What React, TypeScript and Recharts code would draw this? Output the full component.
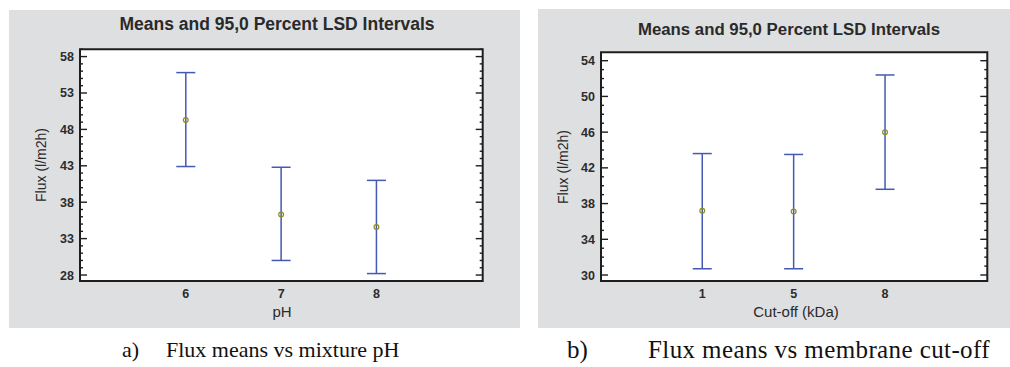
import React from 'react';
import {
  ScatterChart,
  Scatter,
  XAxis,
  YAxis,
  ErrorBar,
  ReferenceArea,
  CartesianGrid,
} from 'recharts';

// a) flux vs mixture pH
const PH_LEVELS = ['6', '7', '8'];
const PH_MEANS = [49.3, 36.3, 34.6];
const PH_LOWER = [42.9, 30.0, 28.2];
const PH_UPPER = [55.8, 42.8, 41.0];
const PH_MAJOR_TICKS = [28, 33, 38, 43, 48, 53, 58];

// b) flux vs membrane cut-off
const CUTOFF_LEVELS = ['1', '5', '8'];
const CUTOFF_MEANS = [37.2, 37.1, 46.0];
const CUTOFF_LOWER = [30.7, 30.7, 39.6];
const CUTOFF_UPPER = [43.6, 43.5, 52.4];
const CUTOFF_MAJOR_TICKS = [30, 34, 38, 42, 46, 50, 54];

const TITLE = 'Means and 95,0 Percent LSD Intervals';
const Y_LABEL = 'Flux (l/m2h)';

const SANS = '"Liberation Sans", Arial, Helvetica, sans-serif';
const SERIF = '"Liberation Serif", "Times New Roman", serif';
const PANEL_BG = '#dedfe1';
const BAR_COLOR = '#4459b2';
const MEAN_COLOR = '#8d8d22';
const FRAME = '#1e1e1e';

function buildRows(means: number[], lower: number[], upper: number[]) {
  return means.map((m, i) => ({
    idx: i,
    mean: m,
    err: [m - lower[i], upper[i] - m],
  }));
}

function minorTicks(lo: number, hi: number) {
  const out: number[] = [];
  for (let v = Math.ceil(lo); v <= Math.floor(hi); v++) out.push(v);
  return out;
}

function makeYTick(majors: number[], plotWidth: number) {
  return (props: any) => {
    const { x, y, payload } = props;
    const v = payload.value;
    const major = majors.includes(v);
    const len = major ? 7 : 3;
    return (
      <g>
        <line x1={x} x2={x + len} y1={y} y2={y} stroke={FRAME} strokeWidth={1.4} />
        <line x1={x + plotWidth} x2={x + plotWidth - len} y1={y} y2={y} stroke={FRAME} strokeWidth={1.4} />
        {major && (
          <text
            x={x - 6}
            y={y}
            dy="0.36em"
            textAnchor="end"
            fontSize={12.5}
            fontWeight="bold"
            fontFamily={SANS}
            fill="#2c2c2c"
          >
            {v}
          </text>
        )}
      </g>
    );
  };
}

const MeanMarker = (props: any) => {
  const { cx, cy } = props;
  return <circle cx={cx} cy={cy} r={2.4} fill="none" stroke={MEAN_COLOR} strokeWidth={1.2} />;
};

interface PanelProps {
  left: number;
  top: number;
  width: number;
  height: number;
  levels: string[];
  means: number[];
  lower: number[];
  upper: number[];
  majors: number[];
  yDomain: [number, number];
  xDomain: [number, number];
  margin: { top: number; right: number };
  yAxisWidth: number;
  xLabel: string;
  titleX: number;
  titleY: number;
  titleSize: number;
  yLabelX: number;
  yLabelY: number;
  xLabelX: number;
  xLabelY: number;
}

function CenteredText({ x, y, size, weight, rotate, children }: any) {
  return (
    <div
      style={{
        position: 'absolute',
        left: x,
        top: y,
        transform: `translate(-50%, -50%)${rotate ? ' rotate(-90deg)' : ''}`,
        whiteSpace: 'nowrap',
        fontFamily: SANS,
        fontSize: size,
        fontWeight: weight || 'normal',
        lineHeight: 1,
        color: '#2a2a2a',
      }}
    >
      {children}
    </div>
  );
}

function LsdPanel(p: PanelProps) {
  const rows = buildRows(p.means, p.lower, p.upper);
  const plotWidth = p.width - p.yAxisWidth - p.margin.right;
  return (
    <>
      <div
        style={{
          position: 'absolute',
          left: p.left,
          top: p.top,
          width: p.width,
          height: p.height,
          background: PANEL_BG,
        }}
      >
        <ScatterChart
          width={p.width}
          height={p.height}
          margin={{ top: p.margin.top, right: p.margin.right, bottom: 0, left: 0 }}
        >
          <CartesianGrid horizontal={false} vertical={false} fill="#ffffff" />
          <XAxis
            dataKey="idx"
            type="number"
            domain={p.xDomain}
            allowDataOverflow
            ticks={[0, 1, 2]}
            interval={0}
            tickFormatter={(i: number) => p.levels[i]}
            tickLine={false}
            axisLine={false}
            tickSize={0}
            tickMargin={8}
            height={47}
            tick={{ fontSize: 12.5, fontWeight: 'bold', fill: '#2c2c2c', fontFamily: SANS }}
          />
          <YAxis
            dataKey="mean"
            type="number"
            domain={p.yDomain}
            allowDataOverflow
            ticks={minorTicks(p.yDomain[0], p.yDomain[1])}
            interval={0}
            tickLine={false}
            axisLine={false}
            tickSize={0}
            tickMargin={0}
            width={p.yAxisWidth}
            tick={makeYTick(p.majors, plotWidth)}
          />
          <ReferenceArea
            x1={p.xDomain[0]}
            x2={p.xDomain[1]}
            y1={p.yDomain[0]}
            y2={p.yDomain[1]}
            fill="none"
            stroke={FRAME}
            strokeWidth={2}
          />
          <Scatter data={rows} isAnimationActive={false} shape={MeanMarker}>
            <ErrorBar
              dataKey="err"
              direction="y"
              width={9.5}
              stroke={BAR_COLOR}
              strokeWidth={1.5}
              isAnimationActive={false}
            />
          </Scatter>
        </ScatterChart>
      </div>
      <CenteredText x={p.titleX} y={p.titleY} size={p.titleSize} weight="bold">
        {TITLE}
      </CenteredText>
      <CenteredText x={p.yLabelX} y={p.yLabelY} size={14} rotate>
        {Y_LABEL}
      </CenteredText>
      <CenteredText x={p.xLabelX} y={p.xLabelY} size={15}>
        {p.xLabel}
      </CenteredText>
    </>
  );
}

function Caption({ x, textX, y, tag, text, size = 22, spacing = 0 }: any) {
  const style: React.CSSProperties = {
    position: 'absolute',
    top: y,
    fontFamily: SERIF,
    fontSize: size,
    lineHeight: 1,
    color: '#111',
    whiteSpace: 'nowrap',
  };
  return (
    <>
      <div style={{ ...style, left: x }}>{tag}</div>
      <div style={{ ...style, left: textX, letterSpacing: spacing }}>{text}</div>
    </>
  );
}

export default function App() {
  return (
    <div
      style={{
        position: 'absolute',
        left: 0,
        top: 0,
        width: 1010,
        height: 367,
        background: '#ffffff',
        overflow: 'hidden',
      }}
    >
      <LsdPanel
        left={9}
        top={10}
        width={511}
        height={318}
        levels={PH_LEVELS}
        means={PH_MEANS}
        lower={PH_LOWER}
        upper={PH_UPPER}
        majors={PH_MAJOR_TICKS}
        yDomain={[27.18, 59.0]}
        xDomain={[-1.11, 3.115]}
        margin={{ top: 39.3, right: 37.3 }}
        yAxisWidth={71}
        xLabel="pH"
        titleX={277}
        titleY={25.3}
        titleSize={17.5}
        yLabelX={41}
        yLabelY={165}
        xLabelX={282}
        xLabelY={310.5}
      />
      <LsdPanel
        left={538}
        top={9}
        width={472}
        height={319}
        levels={CUTOFF_LEVELS}
        means={CUTOFF_MEANS}
        lower={CUTOFF_LOWER}
        upper={CUTOFF_UPPER}
        majors={CUTOFF_MAJOR_TICKS}
        yDomain={[29.33, 54.94]}
        xDomain={[-1.108, 3.119]}
        margin={{ top: 43.3, right: 22.7 }}
        yAxisWidth={63}
        xLabel="Cut-off (kDa)"
        titleX={789}
        titleY={29.5}
        titleSize={16.8}
        yLabelX={563}
        yLabelY={167}
        xLabelX={796}
        xLabelY={310.5}
      />
      <Caption x={122} textX={166} y={339} tag="a)" text="Flux means vs mixture pH" />
      <Caption
        x={567}
        textX={648}
        y={337}
        size={25}
        spacing={0.4}
        tag="b)"
        text="Flux means vs membrane cut-off"
      />
    </div>
  );
}
